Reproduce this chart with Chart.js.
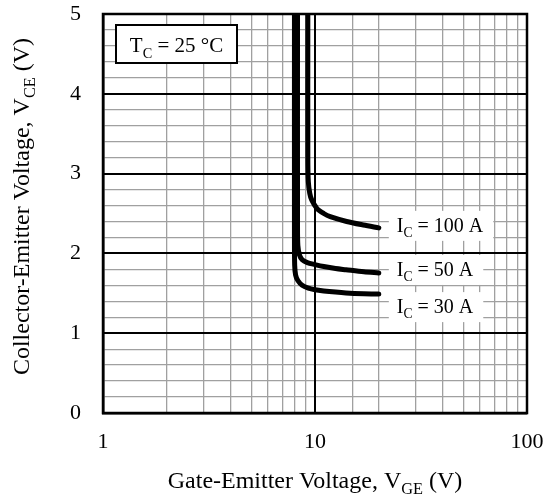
<!DOCTYPE html>
<html><head><meta charset="utf-8">
<script src="https://cdn.jsdelivr.net/npm/chart.js@4/dist/chart.umd.min.js"></script>
<style>html,body{margin:0;padding:0;background:#fff;}</style>
</head><body>
<canvas id="c" width="546" height="497"></canvas>
<script>
// ---- data ----
const vge30  = [8.0, 8.0, 8.02, 8.1, 8.3, 8.7, 9.3, 10, 11, 12.5, 14, 17, 20];
const vce30  = [5.0, 2.2, 1.85, 1.73, 1.66, 1.60, 1.565, 1.545, 1.53, 1.515, 1.505, 1.495, 1.49];
const vge50  = [8.27, 8.27, 8.3, 8.45, 8.7, 9.2, 10, 11, 12.5, 14, 17, 20];
const vce50  = [5.0, 2.4, 2.1, 1.98, 1.92, 1.885, 1.86, 1.835, 1.81, 1.795, 1.77, 1.755];
const vge100 = [9.25, 9.25, 9.3, 9.45, 9.65, 10.2, 11, 11.8, 14.1, 16.9, 20];
const vce100 = [5.0, 3.2, 2.9, 2.75, 2.67, 2.565, 2.5, 2.46, 2.40, 2.356, 2.32];
const seriesNames = ['100 A', '50 A', '30 A'];
const xTickLabels = [1, 10, 100];
const yTickLabels = [0, 1, 2, 3, 4, 5];
const tempLabel = '25 °C';

// ---- styles ----
const FONT = '"Liberation Serif", "Times New Roman", serif';
const labelDy = [-2, -3, 13];   // label vertical offsets from line end (px)

function pts(xs, ys){ return xs.map((x,i)=>({x:x, y:ys[i]})); }

function measureRich(ctx, parts, size){
  let w = 0;
  parts.forEach(p=>{
    const s = p.sub ? size*0.68 : size;
    ctx.font = s + 'px ' + FONT;
    w += ctx.measureText(p.t).width;
  });
  return w;
}
function paintRich(ctx, parts, size, x, y){
  let cx = x;
  parts.forEach(p=>{
    const s = p.sub ? size*0.68 : size;
    ctx.font = s + 'px ' + FONT;
    ctx.fillText(p.t, cx, y + (p.sub ? size*0.27 : 0));
    cx += ctx.measureText(p.t).width;
  });
}

const isInt = v => Math.abs(v - Math.round(v)) < 1e-6;

const framePlugin = {
  id: 'frame',
  beforeDatasetsDraw(chart){
    const {ctx, chartArea:a} = chart;
    const xs = chart.scales.x, ys = chart.scales.y;
    ctx.save();
    // redraw major grid lines on top of minor ones
    ctx.strokeStyle = '#000';
    ctx.lineWidth = 2;
    ctx.beginPath();
    xs.ticks.forEach(t=>{
      if (t.value === 10){
        const px = Math.round(xs.getPixelForValue(t.value));
        ctx.moveTo(px, a.top); ctx.lineTo(px, a.bottom);
      }
    });
    ys.ticks.forEach(t=>{
      if (isInt(t.value)){
        const py = Math.round(ys.getPixelForValue(t.value));
        ctx.moveTo(a.left, py); ctx.lineTo(a.right, py);
      }
    });
    ctx.stroke();
    ctx.lineWidth = 2.5;
    ctx.strokeRect(a.left, a.top, a.right - a.left, a.bottom - a.top);
    ctx.restore();
  },
  afterDatasetsDraw(chart){
    const {ctx} = chart;
    const xs = chart.scales.x, ys = chart.scales.y;
    ctx.save();
    ctx.textBaseline = 'alphabetic';
    chart.data.datasets.forEach((ds, i)=>{
      const last = ds.data[ds.data.length-1];
      const px = xs.getPixelForValue(last.x);
      const py = ys.getPixelForValue(last.y) + labelDy[i];
      const parts = [{t:'I'},{t:'C',sub:true},{t:' = ' + seriesNames[i]}];
      const size = 20;
      const w = measureRich(ctx, parts, size);
      ctx.fillStyle = '#fff';
      ctx.fillRect(px + 10, py - 15, w + 18, 30);
      ctx.fillStyle = '#000';
      paintRich(ctx, parts, size, px + 18, py + 6);
    });
    // temperature box
    const a = chart.chartArea;
    const bx = a.left + 13, by = a.top + 11, bw = 121, bh = 38;
    ctx.fillStyle = '#fff';
    ctx.fillRect(bx, by, bw, bh);
    ctx.strokeStyle = '#000';
    ctx.lineWidth = 2;
    ctx.strokeRect(bx, by, bw, bh);
    const tparts = [{t:'T'},{t:'C',sub:true},{t:' = ' + tempLabel}];
    const tw = measureRich(ctx, tparts, 21);
    ctx.fillStyle = '#000';
    paintRich(ctx, tparts, 21, bx + (bw - tw)/2, by + 27);
    ctx.restore();
  },
  afterDraw(chart){
    const {ctx, chartArea:a} = chart;
    ctx.save();
    ctx.fillStyle = '#000';
    ctx.textBaseline = 'alphabetic';
    const TS = 24;
    const xt = [{t:'Gate-Emitter Voltage, V'},{t:'GE',sub:true},{t:' (V)'}];
    const xw = measureRich(ctx, xt, TS);
    paintRich(ctx, xt, TS, (a.left + a.right)/2 - xw/2, 488);
    const yt = [{t:'Collector-Emitter Voltage, V'},{t:'CE',sub:true},{t:' (V)'}];
    const yw = measureRich(ctx, yt, TS);
    ctx.translate(29, (a.top + a.bottom)/2 - 7);
    ctx.rotate(-Math.PI/2);
    paintRich(ctx, yt, TS, -yw/2, 0);
    ctx.restore();
  }
};

function zeroPad(s){ s.paddingTop = 0; s.paddingBottom = 0; s.paddingLeft = 0; s.paddingRight = 0; }

new Chart(document.getElementById('c'), {
  type: 'line',
  data: {
    datasets: [
      {data: pts(vge100, vce100)},
      {data: pts(vge50, vce50)},
      {data: pts(vge30, vce30)}
    ].map(d => Object.assign(d, {
      borderColor:'#000', borderWidth:5, pointRadius:0, tension:0.3,
      fill:false, borderCapStyle:'round', borderJoinStyle:'round'
    }))
  },
  options: {
    responsive:false, animation:false, devicePixelRatio:1,
    layout:{padding:{left:0, top:14, right:19, bottom:0}},
    plugins:{legend:{display:false}, tooltip:{enabled:false}},
    scales:{
      x:{
        type:'logarithmic', min:1, max:100,
        afterFit(s){ s.height = 84; zeroPad(s); },
        border:{display:true, color:'#000', width:2.5},
        grid:{
          drawTicks:false,
          color: c => (c.tick && c.tick.value === 10) ? '#000' : '#a0a0a0',
          lineWidth: c => (c.tick && c.tick.value === 10) ? 2 : 1.3
        },
        ticks:{
          autoSkip:false, maxRotation:0, padding:16, color:'#000',
          font:{family:FONT, size:22},
          callback: v => xTickLabels.includes(v) ? String(v) : ''
        }
      },
      y:{
        type:'linear', min:0, max:5,
        afterFit(s){ s.width = 103; zeroPad(s); },
        border:{display:true, color:'#000', width:2.5},
        grid:{
          drawTicks:false,
          color: c => (c.tick && isInt(c.tick.value)) ? '#000' : '#a0a0a0',
          lineWidth: c => (c.tick && isInt(c.tick.value)) ? 2 : 1.3
        },
        ticks:{
          stepSize:0.2, autoSkip:false, padding:22, color:'#000',
          font:{family:FONT, size:22},
          callback: v => (isInt(v) && yTickLabels.includes(Math.round(v))) ? String(Math.round(v)) : ''
        }
      }
    }
  },
  plugins:[framePlugin]
});
</script>
</body></html>
